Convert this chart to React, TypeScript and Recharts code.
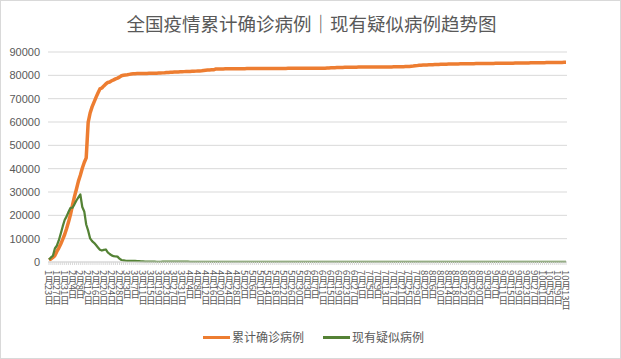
import React from 'react';
import { LineChart, Line, XAxis, YAxis, CartesianGrid } from 'recharts';

// 累计确诊病例 (daily, 1月23日 - 10月13日)
const confirmedJan = [830, 1287, 1975, 2744, 4515, 5974, 7711, 9692, 11791];
const confirmedFeb = [14380, 17205, 20438, 24324, 28018, 31161, 34546, 37198, 40171, 42638, 44653, 59804, 63851, 66492, 68500, 70548, 72436, 74185, 74576, 75465, 76288, 76936, 77150, 77658, 78064, 78497, 78824, 79251, 79824];
const confirmedMar = [80026, 80151, 80270, 80409, 80552, 80651, 80695, 80735, 80754, 80778, 80793, 80813, 80824, 80844, 80860, 80881, 80894, 80928, 80967, 81008, 81054, 81093, 81171, 81218, 81285, 81340, 81394, 81439, 81470, 81518, 81554];
const confirmedApr = [81589, 81620, 81639, 81669, 81708, 81740, 81802, 81865, 81907, 81953, 82052, 82160, 82249, 82295, 82341, 82367, 82692, 82719, 82735, 82747, 82758, 82788, 82798, 82804, 82816, 82827, 82830, 82836, 82858, 82862];
const confirmedMay = [82874, 82875, 82877, 82880, 82881, 82883, 82885, 82886, 82887, 82901, 82918, 82919, 82926, 82929, 82933, 82941, 82947, 82954, 82960, 82965, 82967, 82971, 82974, 82985, 82992, 82993, 82995, 82995, 83001, 83001, 83017];
const confirmedJun = [83022, 83021, 83022, 83027, 83030, 83036, 83040, 83043, 83046, 83057, 83064, 83075, 83132, 83181, 83221, 83265, 83293, 83325, 83352, 83378, 83396, 83418, 83430, 83449, 83462, 83483, 83500, 83512, 83531, 83534];
const confirmedJul = [83537, 83542, 83545, 83553, 83557, 83565, 83572, 83581, 83585, 83587, 83594, 83602, 83605, 83611, 83612, 83622, 83644, 83660, 83682, 83693, 83707, 83729, 83750, 83784, 83830, 83891, 83959, 84060, 84165, 84292, 84337];
const confirmedAug = [84385, 84428, 84464, 84491, 84528, 84565, 84596, 84619, 84668, 84712, 84737, 84756, 84786, 84808, 84827, 84849, 84871, 84888, 84895, 84917, 84939, 84951, 84967, 84981, 84996, 85004, 85013, 85022, 85031, 85048, 85058];
const confirmedSep = [85066, 85077, 85087, 85102, 85112, 85122, 85134, 85144, 85146, 85153, 85168, 85184, 85194, 85202, 85214, 85223, 85255, 85269, 85279, 85291, 85307, 85314, 85322, 85337, 85351, 85372, 85384, 85403, 85403, 85414];
const confirmedOct = [85424, 85434, 85450, 85470, 85470, 85485, 85489, 85496, 85501, 85515, 85536, 85557, 85578];

// 现有疑似病例
const suspectedJan = [1072, 1965, 2684, 5794, 6973, 9239, 12167, 15238, 17988];
const suspectedFeb = [19544, 21558, 23214, 23260, 24702, 26359, 27657, 28942, 23589, 21675, 16067, 13435, 10109, 8969, 8228, 7264, 6242, 5248, 4922, 5206, 5365, 4148, 3434, 2824, 2491, 2358, 2308, 1418, 851];
const suspectedMar = [715, 587, 520, 522, 482, 502, 458, 421, 349, 285, 253, 147, 115, 113, 134, 128, 119, 105, 104, 106, 118, 136, 132, 134, 159, 189, 184, 174, 168, 183, 172];
const suspectedApr = [153, 135, 111, 92, 80, 72, 84, 83, 84, 72, 65, 72, 70, 73, 64, 60, 55, 53, 48, 40, 31, 23, 20, 10, 10, 8, 8, 7, 10, 9];
const suspectedMay = [9, 7, 5, 3, 4, 4, 3, 4, 4, 5, 5, 7, 6, 5, 3, 3, 6, 3, 4, 4, 3, 2, 3, 4, 5, 6, 5, 4, 3, 4, 4];
const suspectedJun = [4, 3, 3, 2, 3, 4, 4, 3, 3, 3, 3, 4, 7, 7, 8, 6, 4, 5, 5, 6, 6, 4, 4, 3, 3, 3, 3, 3, 4, 4];
const suspectedJul = [4, 4, 4, 4, 3, 3, 2, 2, 2, 2, 2, 3, 4, 4, 5, 4, 3, 3, 4, 4, 3, 3, 3, 3, 2, 1, 3, 3, 3, 4, 4];
const suspectedAug = [3, 2, 3, 4, 3, 3, 4, 3, 4, 3, 4, 3, 2, 2, 3, 3, 4, 4, 4, 3, 2, 2, 2, 3, 3, 3, 2, 2, 2, 2, 2];
const suspectedSep = [2, 2, 3, 3, 3, 3, 2, 2, 2, 2, 2, 3, 3, 3, 2, 2, 2, 2, 1, 1, 1, 1, 1, 2, 3, 2, 2, 2, 2, 2];
const suspectedOct = [2, 2, 2, 2, 2, 2, 2, 1, 1, 1, 1, 1, 1];

const months = [1, 2, 3, 4, 5, 6, 7, 8, 9, 10];
const firstDays = [23, 1, 1, 1, 1, 1, 1, 1, 1, 1];
const confirmedByMonth = [confirmedJan, confirmedFeb, confirmedMar, confirmedApr, confirmedMay, confirmedJun, confirmedJul, confirmedAug, confirmedSep, confirmedOct];
const suspectedByMonth = [suspectedJan, suspectedFeb, suspectedMar, suspectedApr, suspectedMay, suspectedJun, suspectedJul, suspectedAug, suspectedSep, suspectedOct];

const yTicks = [0, 10000, 20000, 30000, 40000, 50000, 60000, 70000, 80000, 90000];
const LABEL_STEP = 4; // one date label every 4 days

const title = '全国疫情累计确诊病例｜现有疑似病例趋势图';
const seriesNames = ['累计确诊病例', '现有疑似病例'];
const seriesColors = ['#ED7D31', '#548235'];

const data: { date: string; confirmed: number; suspected: number }[] = [];
months.forEach((m, mi) => {
  confirmedByMonth[mi].forEach((v, i) => {
    data.push({
      date: `${m}月${firstDays[mi] + i}日`,
      confirmed: v,
      suspected: suspectedByMonth[mi][i],
    });
  });
});

const cjk = "'Noto Sans CJK SC', 'Noto Sans', sans-serif";

const DateTick = ({ x, y, payload, index }: any) => {
  const i = typeof index === 'number' ? index : payload.index;
  if (i % LABEL_STEP !== 0) return <g />;
  return (
    <text
      x={x}
      y={y + 2}
      fill="#595959"
      fontSize={9.5}
      fontFamily={cjk}
      textAnchor="start"
      style={{ writingMode: 'vertical-rl' } as any}
    >
      {payload.value}
    </text>
  );
};

export default function App() {
  return (
    <div
      style={{
        position: 'absolute',
        left: 0,
        top: 0,
        width: 621,
        height: 359,
        background: '#fff',
        border: '1px solid #d9d9d9',
        boxSizing: 'border-box',
        fontFamily: cjk,
      }}
    >
      <div
        style={{
          position: 'absolute',
          left: 0,
          width: 621,
          top: 9,
          textAlign: 'center',
          fontSize: 18.5,
          lineHeight: '26px',
          color: '#595959',
        }}
      >
        {title}
      </div>
      <div style={{ position: 'absolute', left: -1, top: -1 }}>
        <LineChart width={621} height={359} data={data} margin={{ top: 52, right: 54, bottom: 47, left: 0 }}>
          <CartesianGrid vertical={false} stroke="#d9d9d9" strokeWidth={1} />
          <XAxis
            dataKey="date"
            interval={0}
            height={50}
            tick={<DateTick />}
            tickSize={3}
            tickMargin={3}
            axisLine={{ stroke: '#d9d9d9' }}
            tickLine={{ stroke: '#d9d9d9' }}
            padding={{ left: 1, right: 1 }}
          />
          <YAxis
            width={48}
            domain={[0, 90000]}
            ticks={yTicks}
            axisLine={false}
            tickLine={false}
            tick={{ fill: '#595959', fontSize: 11, fontFamily: "'Liberation Sans', Arial, sans-serif" }}
          />
          <Line
            dataKey="confirmed"
            name={seriesNames[0]}
            stroke={seriesColors[0]}
            strokeWidth={3.5}
            dot={false}
            isAnimationActive={false}
            strokeLinejoin="round"
          />
          <Line
            dataKey="suspected"
            name={seriesNames[1]}
            stroke={seriesColors[1]}
            strokeWidth={2.25}
            dot={false}
            isAnimationActive={false}
            strokeLinejoin="round"
          />
        </LineChart>
      </div>
      <div
        style={{
          position: 'absolute',
          top: 328,
          left: 202,
          display: 'flex',
          alignItems: 'center',
          fontSize: 12,
          color: '#595959',
          lineHeight: '16px',
        }}
      >
        {seriesNames.map((n, i) => (
          <div key={n} style={{ display: 'flex', alignItems: 'center', marginRight: i === 0 ? 19 : 0 }}>
            <span style={{ display: 'inline-block', width: 27, height: 3, background: seriesColors[i], marginRight: 2 }} />
            <span>{n}</span>
          </div>
        ))}
      </div>
    </div>
  );
}
